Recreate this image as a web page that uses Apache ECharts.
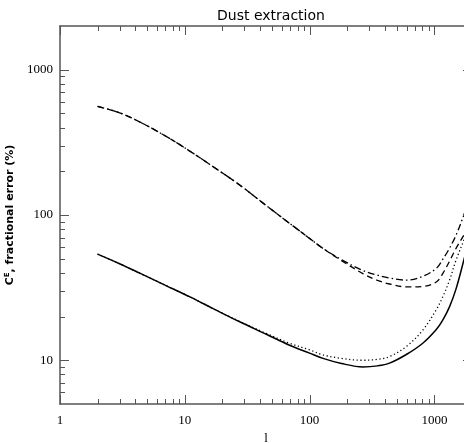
<!DOCTYPE html>
<html><head><meta charset="utf-8">
<script src="https://cdn.jsdelivr.net/npm/echarts@6/dist/echarts.min.js"></script>
<style>html,body{margin:0;padding:0;background:#fff}#c{width:464px;height:443px}</style>
</head><body><div id="c"></div>
<script>
var ells    = [2, 3, 4.4, 7, 11, 17, 27.5, 45, 69, 100, 128, 180, 267, 350, 437, 600, 806, 1035, 1166, 1320, 1490, 1720, 2000];
var solid   = [53.8, 46.2, 39.6, 32.8, 27.3, 22.6, 18.4, 15.1, 12.7, 11.2, 10.3, 9.5, 9.0, 9.15, 9.55, 11.0, 13.1, 16.3, 18.9, 23.3, 31.0, 48.9, 80];
var dotted  = [53.8, 46.2, 39.6, 32.8, 27.3, 22.6, 18.5, 15.3, 13.1, 11.8, 10.9, 10.3, 10.0, 10.15, 10.6, 12.5, 16.1, 22.3, 27.3, 35.5, 48.9, 67, 95];
var dashed  = [560, 505, 435, 350, 275, 214, 161, 116, 87.7, 69, 58.9, 48.5, 39.5, 35.5, 33.5, 32.0, 32.2, 34.6, 39.5, 48, 58.9, 72.6, 91];
var dashdot = [560, 505, 435, 350, 275, 214, 161, 116, 87.7, 69, 58.9, 49.3, 41.5, 38.5, 36.8, 35.6, 37.8, 42.9, 49.5, 59, 72.6, 100, 145];
var titleText = 'Dust extraction';
var xTicks  = [1, 10, 100, 1000];
var yTicks  = [10, 100, 1000];
var xMinor  = [2,3,4,5,6,7,8,9, 20,30,40,50,60,70,80,90, 200,300,400,500,600,700,800,900];
var yMinor  = [6,7,8,9, 20,30,40,50,60,70,80,90, 200,300,400,500,600,700,800,900];

function pairs(v){ return ells.map(function(l,i){ return [l, v[i]]; }); }

var chart = echarts.init(document.getElementById('c'), null, {renderer:'canvas'});
var axCol = '#555';
var lblFont = 'Liberation Serif';
function xAx(pos, show){
  return {type:'log', logBase:10, min:1, max:2000, position:pos,
    axisLine:{show:true, onZero:false, lineStyle:{color:axCol, width:1.5}},
    axisTick:{show:false},
    minorTick:{show:false},
    axisLabel:{show:show, color:'#000', fontFamily:lblFont, fontSize:13, margin:10,
      formatter:function(v){ return xTicks.indexOf(v)>=0 ? String(v) : ''; }},
    splitLine:{show:false},
    name: show ? 'l' : '', nameLocation:'middle', nameGap:24,
    nameTextStyle:{color:'#000', fontFamily:lblFont, fontSize:13}
  };
}
function yAx(pos, show){
  return {type:'log', logBase:10, min:5, max:2000, position:pos,
    axisLine:{show:true, onZero:false, lineStyle:{color:axCol, width:1.5}},
    axisTick:{show:false},
    minorTick:{show:false},
    axisLabel:{show:show, color:'#000', fontFamily:lblFont, fontSize:13, margin:7,
      formatter:function(v){ return yTicks.indexOf(v)>=0 ? String(v) : ''; }},
    splitLine:{show:false},
    name: show ? '{a|C}{s|E}{b|, fractional error (%)}' : '', nameLocation:'middle', nameGap:37,
    nameTextStyle:{color:'#000', rich:{
      a:{fontFamily:'DejaVu Sans', fontWeight:'bold', fontSize:11},
      s:{fontFamily:'DejaVu Sans', fontWeight:'bold', fontSize:7, verticalAlign:'top', padding:[0,0,6,0]},
      b:{fontFamily:'DejaVu Sans', fontWeight:'bold', fontSize:11}}}
  };
}
function line(data, type){
  return {type:'line', data:pairs(data), smooth:0.35, showSymbol:false, xAxisIndex:0, yAxisIndex:0,
    lineStyle:{color:'#000', width:type==='solid'?1.5:1.3, type:type}, animation:false, silent:true};
}
function tickMarks(params, api){
  var cs = params.coordSys;
  var top = cs.y, bot = cs.y + cs.height, left = cs.x, right = cs.x + cs.width;
  var kids = [];
  var st = {stroke:axCol, lineWidth:1};
  function xt(v, L){
    var px = Math.round(api.coord([v, 10])[0]) + 0.5;
    kids.push({type:'line', shape:{x1:px, y1:bot, x2:px, y2:bot - L}, style:st});
    kids.push({type:'line', shape:{x1:px, y1:top, x2:px, y2:top + L}, style:st});
  }
  function yt(v, L){
    var py = Math.round(api.coord([10, v])[1]) + 0.5;
    kids.push({type:'line', shape:{x1:left, y1:py, x2:left + L, y2:py}, style:st});
    kids.push({type:'line', shape:{x1:right, y1:py, x2:right - L, y2:py}, style:st});
  }
  xMinor.forEach(function(v){ xt(v, 5); });
  xTicks.forEach(function(v){ xt(v, 9); });
  yMinor.forEach(function(v){ yt(v, 5); });
  yTicks.forEach(function(v){ yt(v, 9); });
  return {type:'group', children:kids};
}
chart.setOption({
  animation:false,
  backgroundColor:'#fff',
  title:{text:titleText, left:266, top:4, textAlign:'center',
    textStyle:{fontFamily:'DejaVu Sans', fontWeight:'normal', fontSize:14, color:'#000'}},
  grid:{left:60, right:-8, top:26, bottom:39, containLabel:false, outerBoundsMode:'none'},
  xAxis:[xAx('bottom', true), xAx('top', false)],
  yAxis:[yAx('left', true), yAx('right', false)],
  series:[
    line(solid, 'solid'),
    line(dotted, [1.2, 2.6]),
    line(dashed, [6, 4]),
    line(dashdot, [7, 3, 1.5, 3]),
    {type:'custom', data:[[10,10]], renderItem:tickMarks, silent:true, clip:false, z:5}
  ]
});
</script></body></html>
